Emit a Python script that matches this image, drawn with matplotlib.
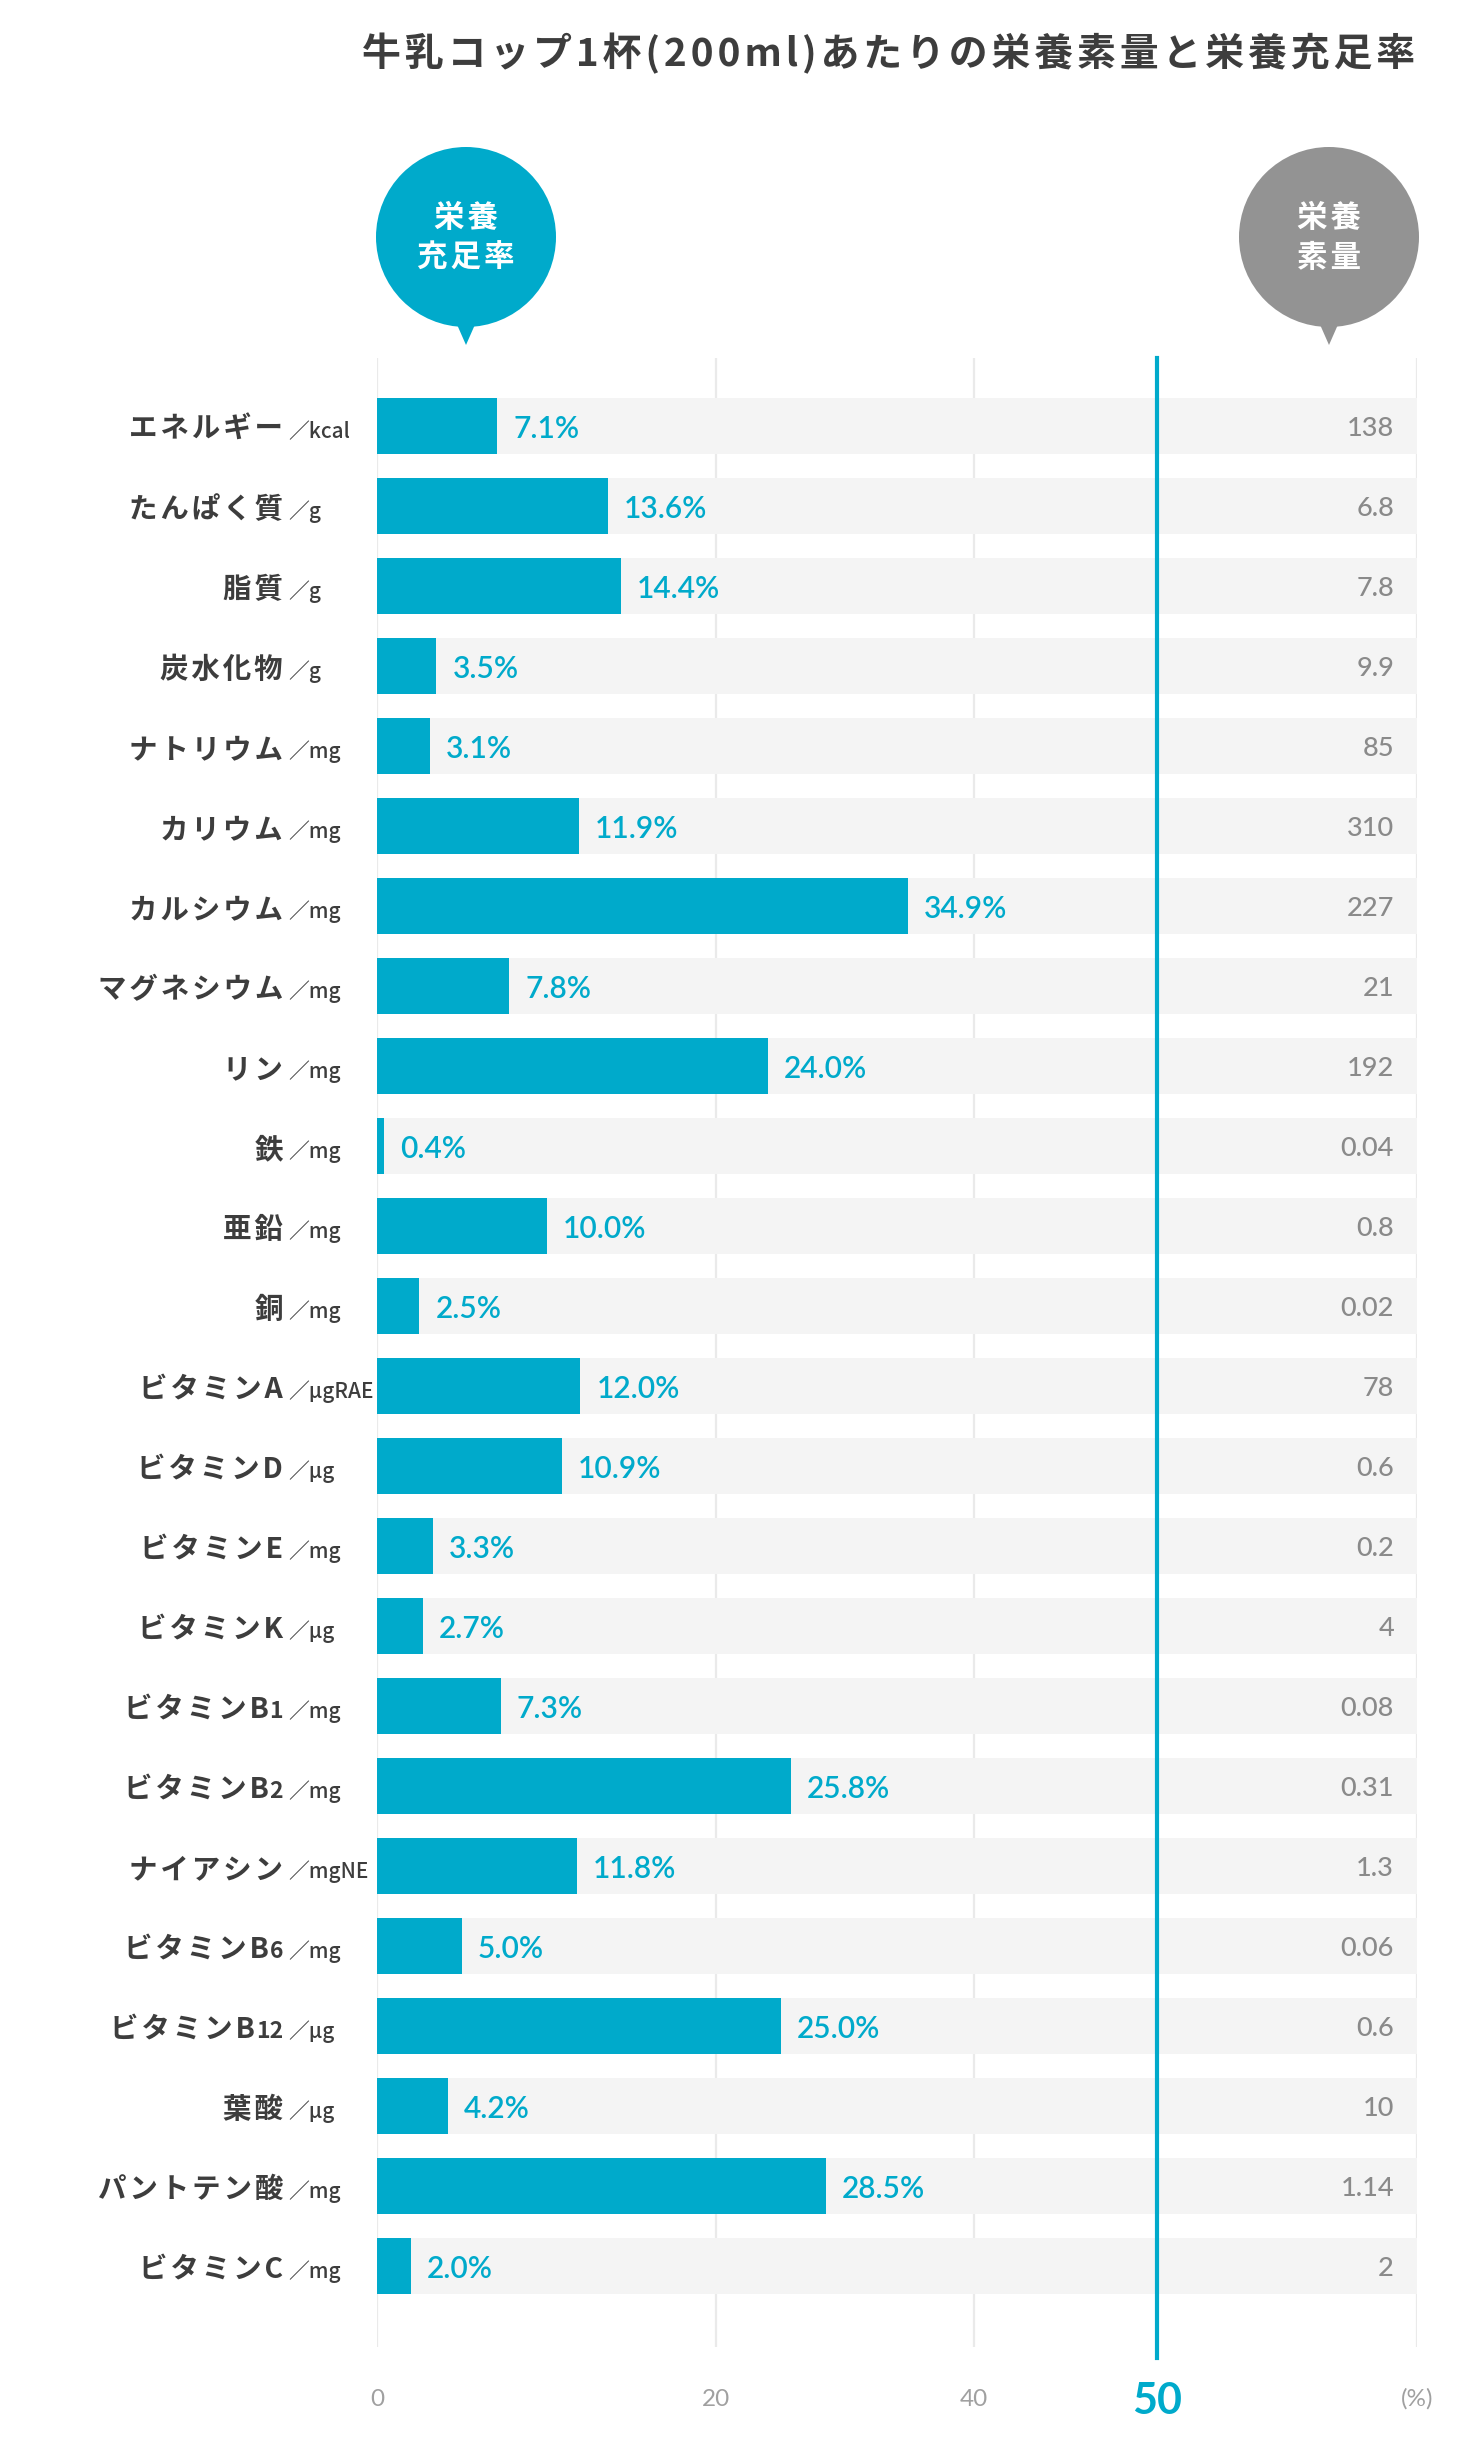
import matplotlib
matplotlib.use("Agg")
import matplotlib.pyplot as plt
import matplotlib.transforms as mtransforms
from matplotlib.patches import Circle, Polygon
from matplotlib.scale import FuncScale
import numpy as np

# ---------------- data ----------------
categories = ["エネルギー", "たんぱく質", "脂質", "炭水化物", "ナトリウム", "カリウム",
              "カルシウム", "マグネシウム", "リン", "鉄", "亜鉛", "銅",
              "ビタミンA", "ビタミンD", "ビタミンE", "ビタミンK", "ビタミンB", "ビタミンB",
              "ナイアシン", "ビタミンB", "ビタミンB", "葉酸", "パントテン酸", "ビタミンC"]
suffixes = ["", "", "", "", "", "", "", "", "", "", "", "",
            "", "", "", "", "1", "2", "", "6", "12", "", "", ""]
units = ["kcal", "g", "g", "g", "mg", "mg", "mg", "mg", "mg", "mg", "mg", "mg",
         "μgRAE", "μg", "mg", "μg", "mg", "mg", "mgNE", "mg", "μg", "μg", "mg", "mg"]
rate = [7.1, 13.6, 14.4, 3.5, 3.1, 11.9, 34.9, 7.8, 24.0, 0.4, 10.0, 2.5,
        12.0, 10.9, 3.3, 2.7, 7.3, 25.8, 11.8, 5.0, 25.0, 4.2, 28.5, 2.0]
amount = ["138", "6.8", "7.8", "9.9", "85", "310", "227", "21", "192", "0.04", "0.8", "0.02",
          "78", "0.6", "0.2", "4", "0.08", "0.31", "1.3", "0.06", "0.6", "10", "1.14", "2"]
tick_values = [0, 20, 40, 50, 60]
tick_labels = ["0", "20", "40", "50", "(%)"]
target_line = 50
title = "牛乳コップ1杯(200ml)あたりの栄養素量と栄養充足率"

# ---------------- style ----------------
TEAL = "#00AACB"
BAND = "#F4F4F4"
GRID = "#EAEAEA"
DARK = "#3D3D3D"
GRAYV = "#8A8A8A"
TICKC = "#A0A0A0"
BUBG = "#939393"
JP = ["Noto Sans CJK JP", "DejaVu Sans"]
NUM = ["Lato", "DejaVu Sans"]

W, H = 1468, 2440
fig = plt.figure(figsize=(W / 100, H / 100), dpi=100)
fig.patch.set_facecolor("white")

x0, x1 = 377, 1417
y_top, y_bot = 358, 2347
row_px = 80.0
ax = fig.add_axes([x0 / W, 1 - y_bot / H, (x1 - x0) / W, (y_bot - y_top) / H])

# piecewise axis scale (the original infographic's axis is not linear)
scale_v = np.array([0, 20, 40, 50, 60], dtype=float)
scale_p = np.array([0, 339, 597, 780, 1040], dtype=float)
fwd = lambda v: np.interp(v, scale_v, scale_p)
inv = lambda p: np.interp(p, scale_p, scale_v)
ax.set_xscale(FuncScale(ax, (fwd, inv)))
ax.set_xlim(0, 60)
n = len(categories)
ax.set_ylim(n - 1 + (y_bot - 426 - (n - 1) * row_px) / row_px, -(426 - y_top) / row_px)
ax.axis("off")

ypos = np.arange(n)
bh = 56 / row_px

# grid lines
for v in [0, 20, 40, 60]:
    ax.axvline(v, color=GRID, lw=1.6, zorder=0)
# background bands and bars
ax.barh(ypos, [60] * n, height=bh, color=BAND, zorder=1, linewidth=0)
ax.barh(ypos, rate, height=bh, color=TEAL, zorder=2, linewidth=0)
# 50% line
ax.axvline(target_line, ymin=-11 / (y_bot - y_top), ymax=1, color=TEAL, lw=3, zorder=3, clip_on=False)

# value labels
off = mtransforms.offset_copy(ax.transData, fig=fig, x=16, y=0, units="dots")
for i, r in enumerate(rate):
    ax.text(r, i, f"{r:.1f}%", transform=off, ha="left", va="center_baseline",
            color=TEAL, fontsize=21.5, family=NUM, weight="semibold", zorder=4)

# overlay in pixel coords
ov = fig.add_axes([0, 0, 1, 1], zorder=5)
ov.set_xlim(0, W)
ov.set_ylim(H, 0)
ov.axis("off")
ov.patch.set_alpha(0)

lab_tr = mtransforms.blended_transform_factory(ov.transData, ax.transData)
renderer = fig.canvas.get_renderer()
HS = "\u200a"
for i in range(n):
    yb = i + 0.15
    xr = 283
    if suffixes[i]:
        ts = ov.text(xr, yb, suffixes[i], transform=lab_tr, ha="right", va="baseline",
                     fontsize=16.5, family=JP, weight="bold", color=DARK)
        xr -= ts.get_window_extent(renderer).width + 1
    ov.text(xr, yb, HS.join(categories[i]), transform=lab_tr, ha="right", va="baseline",
            fontsize=20.5, family=JP, weight="bold", color=DARK)
    ov.text(288, yb, "／" + units[i], transform=lab_tr, ha="left", va="baseline",
            fontsize=15, family=JP, weight="medium", color=DARK)
    ov.text(1394, i, amount[i], transform=lab_tr, ha="right", va="center_baseline",
            fontsize=19.5, family=NUM, weight="medium", color=GRAYV)

# x tick labels
xt = mtransforms.blended_transform_factory(ax.transData, ov.transData)
for v, lab in zip(tick_values, tick_labels):
    if v == target_line:
        ov.text(v, 2397, lab, transform=xt, ha="center", va="center_baseline",
                fontsize=31, family=NUM, weight="bold", color=TEAL)
    else:
        ov.text(v, 2397, lab, transform=xt, ha="center", va="center_baseline",
                fontsize=17.5, family=NUM, weight="regular", color=TICKC)

# bubbles
for cx, col, txt in [(466, TEAL, "栄養\n充足率"), (1329, BUBG, "栄養\n素量")]:
    ov.add_patch(Circle((cx, 237), 90, color=col, lw=0))
    ov.add_patch(Polygon([(cx - 11, 320), (cx + 11, 320), (cx, 345)], closed=True, color=col, lw=0))
    ov.text(cx, 238, "\n".join(HS.join(line) for line in txt.split("\n")), ha="center",
            va="center", fontsize=22, family=JP, weight="bold", color="white", linespacing=1.3)

# title
ov.text(1415, 54, HS.join(title), ha="right", va="center", fontsize=28,
        family=JP, weight="bold", color=DARK)

fig.savefig("out.png", dpi=100, facecolor="white")
